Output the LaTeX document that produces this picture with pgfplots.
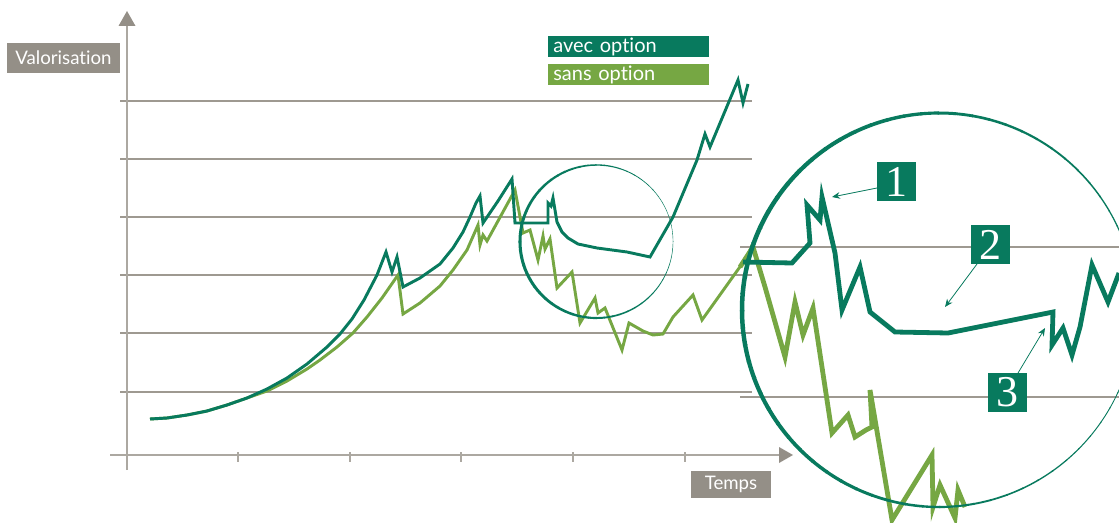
\documentclass[border=0pt]{standalone}
\usepackage{pgfplots}
\pgfplotsset{compat=1.18}
\usepackage{fontspec}
\setmainfont{Lato}[Ligatures={NoCommon,NoDiscretionary}]
\newfontfamily\numfont{Liberation Serif}
\usetikzlibrary{arrows.meta}

\definecolor{avec}{HTML}{087A5E}
\definecolor{sans}{HTML}{76A743}
\definecolor{gridgray}{HTML}{9E9991}
\definecolor{axisgray}{HTML}{ACA8A1}
\definecolor{boxgray}{HTML}{948F87}

\begin{document}
\begin{tikzpicture}
\useasboundingbox (0,0) rectangle (839.25pt,391.5pt);
\clip (0,0) rectangle (839.25pt,391.5pt);
\begin{axis}[
  at={(0,0)}, anchor=south west,
  scale only axis,
  width=839.25pt, height=391.5pt,
  xmin=-127, xmax=992,
  ymin=-67, ymax=455,
  hide axis,
  clip=false
]
% grid of the main chart
\foreach \g in {63,122,180,238,296,354}{
  \edef\tmp{\noexpand\draw[gridgray, line width=1.5pt] (axis cs:-7,\g) -- (axis cs:625,\g);}
  \tmp
}
% axes
\draw[axisgray, line width=1.2pt] (axis cs:0,-15) -- (axis cs:0,430);
\draw[axisgray, line width=1.3pt] (axis cs:-17,0) -- (axis cs:653,0);
\fill[boxgray] (axis cs:-8.5,429) -- (axis cs:0,444) -- (axis cs:8.5,429) -- cycle;
\fill[boxgray] (axis cs:652,8) -- (axis cs:666,0) -- (axis cs:652,-8) -- cycle;
\foreach \t in {111,223,334,446,558}{
  \edef\tmp{\noexpand\draw[axisgray, line width=1.1pt] (axis cs:\t,3) -- (axis cs:\t,-7);}
  \tmp
}

% sans option
\addplot[sans, line width=2.2pt, mark=none] coordinates {
  (23,36) (40,37) (60,40) (80,44) (100,50) (120,57) (140,64) (160,74)
  (180,86) (193,95) (210,108) (226,122) (240,138) (255,157) (271,180)
  (276,141) (293,152) (313,169) (326,185) (340,205) (351,230)
  (353,210) (356,220) (360,214) (388,265) (396,222) (403,225) (411,195)
  (416,219) (418,206) (423,216) (430,167) (445,183) (453,132) (468,157)
  (471,142) (478,147) (495,105) (502,132) (516,124) (526,120) (536,121)
  (546,138) (566,160) (575,135) (620,198) (625,210)
};
% avec option
\addplot[avec, line width=2.2pt, mark=none] coordinates {
  (23,36) (40,37) (60,40) (80,44) (100,50) (120,57) (140,66) (160,77)
  (180,91) (200,108) (213,121) (225,136) (237,155) (250,180) (259,203)
  (265,183) (270,198) (276,168) (293,177) (313,191) (326,207) (336,223)
  (343,238) (349,252) (353,259) (356,232) (371,254) (385,276) (388,232)
  (421,232) (421,252) (424,249) (426,257) (430,233) (435,223) (441,217)
  (451,211) (470,207) (500,203) (523,198) (546,238) (570,295) (578,321)
  (583,308) (611,375) (616,352) (621,371)
};

% grid of the zoomed view
\draw[gridgray, line width=1.8pt] (axis cs:613,208) -- (axis cs:992,208);
\draw[gridgray, line width=1.8pt] (axis cs:613,58) -- (axis cs:992,58);

% zoomed view
\addplot[sans, line width=3.6pt, mark=none] coordinates {
  (613,188) (626,208) (638,168) (658,98) (668,153) (676,120) (686,147)
  (705,22) (721,40) (728,18) (739,25) (745,28) (743,65) (765,-65)
  (805,0) (806,-52) (813,-30) (828,-63) (831,-35) (838,-52)
};
\addplot[avec, line width=3.6pt, mark=none] coordinates {
  (616,193) (665,192) (683,212) (680,250) (693,235) (695,258) (708,202)
  (715,145) (733,188) (743,143) (768,123) (821,122) (926,143) (925,110)
  (936,127) (945,100) (953,128) (965,190) (981,153) (992,182)
};

% legend
\node[fill=avec, text=white, anchor=west, inner xsep=3.75pt, inner ysep=0pt,
  text width=113.25pt, minimum height=15.75pt,
  font=\fontsize{15}{15}\selectfont] at (axis cs:421,408.5) {avec option};
\node[fill=sans, text=white, anchor=west, inner xsep=3.75pt, inner ysep=0pt,
  text width=113.25pt, minimum height=15.75pt,
  font=\fontsize{15}{15}\selectfont] at (axis cs:421,380.5) {sans option};

% axis labels
\node[fill=boxgray, text=white, inner sep=0pt, minimum width=84.75pt,
  minimum height=22.5pt, font=\fontsize{14}{14}\selectfont]
  at (axis cs:-63.5,397) {Valorisation};
\node[fill=boxgray, text=white, inner sep=0pt, minimum width=60pt,
  minimum height=20.25pt, font=\fontsize{14}{14}\selectfont]
  at (axis cs:604,-29.5) {Temps};

% numbered call-outs
\node[fill=avec, text=white, inner sep=0pt, minimum size=29.25pt,
  font=\numfont\fontsize{33}{33}\selectfont] at (axis cs:769.5,273.5) {1};
\node[fill=avec, text=white, inner sep=0pt, minimum size=29.25pt,
  font=\numfont\fontsize{33}{33}\selectfont] at (axis cs:863.5,210.5) {2};
\node[fill=avec, text=white, inner sep=0pt, minimum size=29.25pt,
  font=\numfont\fontsize{33}{33}\selectfont] at (axis cs:880.5,62.5) {3};
\draw[avec, line width=0.6pt, -{Stealth[length=6pt,width=5pt]}]
  (axis cs:750,267) -- (axis cs:705,258);
\draw[avec, line width=0.6pt, -{Stealth[length=6pt,width=5pt]}]
  (axis cs:850,191) -- (axis cs:818,148);
\draw[avec, line width=0.6pt, -{Stealth[length=6pt,width=5pt]}]
  (axis cs:891,82) -- (axis cs:918,127);

\coordinate (sc) at (axis cs:469.5,213.5);
\coordinate (bc) at (axis cs:812,145);
\end{axis}

% magnifier circles, heavier on the left
\foreach \a in {0,6,...,354}{
  \pgfmathsetmacro\w{0.3+1.0*(1-cos(\a-10))}
  \draw[avec, line width=\w pt] (sc) ++(\a:57.4pt) arc[start angle=\a, end angle=\a+6.4, radius=57.4pt];
}
\foreach \a in {0,5,...,355}{
  \pgfmathsetmacro\w{0.6+1.4*(1-cos(\a+15))}
  \draw[avec, line width=\w pt] (bc) ++(\a:147.75pt) arc[start angle=\a, end angle=\a+5.4, radius=147.75pt];
}
\end{tikzpicture}
\end{document}
